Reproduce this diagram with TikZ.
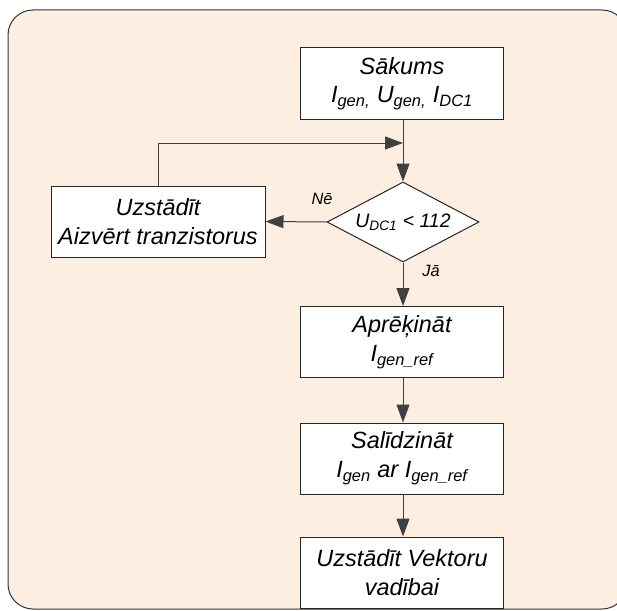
\documentclass[tikz,border=0pt]{standalone}
\usepackage{fontspec}
\setmainfont{Liberation Sans}
\usetikzlibrary{shapes.geometric,arrows.meta}

\definecolor{fonapeach}{RGB}{253,238,226}
\definecolor{liniju}{RGB}{64,64,64}
\newcommand{\apaks}[1]{\textsubscript{#1}}

\begin{document}
\begin{tikzpicture}[x=0.75pt,y=0.75pt,yscale=-1,xscale=1,
  bloks/.style={draw=black!85, fill=white, line width=0.75pt, minimum width=152.25pt, minimum height=53.25pt, align=center, inner sep=0.75pt, font=\itshape\fontsize{17.6}{21.5}\selectfont},
  lemums/.style={bloks, shape=diamond, shape aspect=1.9, minimum width=114pt, minimum height=60pt, inner sep=0pt, font=\itshape\fontsize{14.6}{17}\selectfont},
  savienot/.style={draw=liniju, line width=0.75pt, -{Triangle[length=13.5pt,width=9.75pt]}},
  zime/.style={inner sep=0.75pt, font=\itshape\fontsize{12.3}{14}\selectfont}]
\useasboundingbox (0,0) rectangle (617,610);

%Shape: Rounded Rect (background)
    \draw [draw=black!80, fill=fonapeach, line width=0.75pt, rounded corners=18.75pt] (8,10) rectangle (627,609);

%Shape: Rectangle
    \node [bloks] (sakums) at (402,83.5) {Sākums\\I\apaks{gen,} U\apaks{gen,} I\apaks{DC1}};
%Shape: Diamond
    \node [lemums] (parbaude) at (403,222) {U\apaks{DC1} < 112};
%Shape: Rectangle
    \node [bloks, minimum width=160.5pt] (aizvert) at (158,221.5) {Uzstādīt\\Aizvērt tranzistorus};
%Shape: Rectangle
    \node [bloks] (aprekinat) at (402,342) {Aprēķināt\\I\apaks{gen\_ref}};
%Shape: Rectangle
    \node [bloks] (salidzinat) at (402,458.5) {Salīdzināt\\I\apaks{gen} ar I\apaks{gen\_ref}};
%Shape: Rectangle
    \node [bloks] (vektoru) at (402,572.5) {Uzstādīt Vektoru\\vadībai};

    \coordinate (cilpa) at (403,143);

%Straight Lines
    \draw [savienot] (sakums.south -| parbaude.north) -- (parbaude.north);
    \draw [savienot] (aizvert.north) |- (cilpa);
    \draw [savienot] (parbaude.west) -- (aizvert.east);
    \draw [savienot] (parbaude.south) -- (aprekinat.north -| parbaude.south);
    \draw [savienot] (aprekinat.south -| parbaude.south) -- (salidzinat.north -| parbaude.south);
    \draw [savienot] (salidzinat.south -| parbaude.south) -- (vektoru.north -| parbaude.south);

% Text Node
    \node [zime] (ne) at (322,199) {Nē};
% Text Node
    \node [zime] (ja) at (431,271) {Jā};

\end{tikzpicture}
\end{document}
